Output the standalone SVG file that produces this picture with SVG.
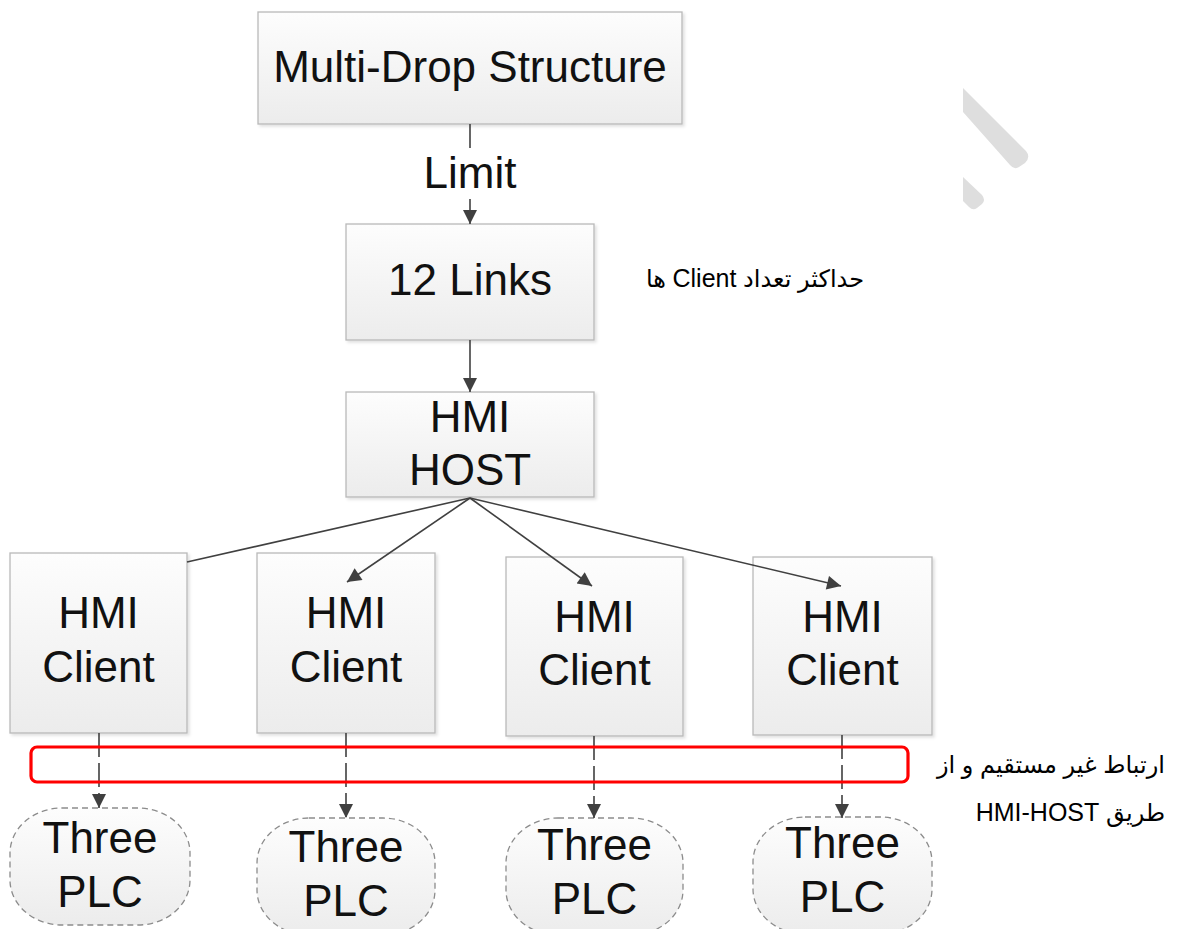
<svg xmlns="http://www.w3.org/2000/svg" width="1184" height="929" viewBox="0 0 1184 929">
<defs>
<linearGradient id="g" x1="0" y1="0" x2="0" y2="1">
<stop offset="0" stop-color="#fdfdfd"/>
<stop offset="1" stop-color="#ececec"/>
</linearGradient>
<marker id="arr" viewBox="0 0 10 10" refX="10" refY="5" markerWidth="16" markerHeight="14" markerUnits="userSpaceOnUse" orient="auto">
<path d="M0,0 L10,5 L0,10 z" fill="#404040"/>
</marker>
<filter id="sh" x="-5%" y="-5%" width="115%" height="115%">
<feDropShadow dx="2" dy="2" stdDeviation="1.5" flood-color="#000" flood-opacity="0.12"/>
</filter>
</defs>
<style>
.box{fill:url(#g);stroke:#b9b9b9;stroke-width:1.3;filter:url(#sh)}
.plc{fill:url(#g);stroke:#8c8c8c;stroke-width:1.3;stroke-dasharray:6 4}
.t{font-family:"Liberation Sans",Arial,sans-serif;font-size:44px;fill:#111;text-anchor:middle}
.fa{font-family:"Liberation Sans","DejaVu Sans",sans-serif;font-size:24px;fill:#000}
.la{font-size:25px}
.c{stroke:#404040;stroke-width:1.6;fill:none}
.d{stroke:#404040;stroke-width:1.6;fill:none;stroke-dasharray:24 6}
</style>
<g id="watermark" fill="#dedede">
<path d="M963,88 L1026,151 Q1031,157 1025,163 L1019,167 Q1014,170 1010,165 L963,112 Z"/>
<path d="M963,177 L982,195 Q986,200 982,204 L977,208 Q973,211 969,207 L963,201 Z"/>
</g>
<g id="multidrop">
<rect class="box" x="258" y="12" width="424" height="112"/>
<text class="t" x="470" y="82">Multi-Drop Structure</text>
</g>
<g id="links12">
<rect class="box" x="346" y="224" width="248" height="116"/>
<text class="t" x="470" y="295">12 Links</text>
</g>
<g id="host">
<rect class="box" x="346" y="392" width="248" height="105"/>
<text class="t" x="470" y="432">HMI</text>
<text class="t" x="470" y="485">HOST</text>
</g>
<g id="client1">
<rect class="box" x="10" y="553" width="177" height="180"/>
<text class="t" x="98.5" y="628">HMI</text>
<text class="t" x="98.5" y="682">Client</text>
</g>
<g id="client2">
<rect class="box" x="257" y="553" width="178" height="180"/>
<text class="t" x="346" y="628">HMI</text>
<text class="t" x="346" y="682">Client</text>
</g>
<g id="client3">
<rect class="box" x="506" y="557" width="177" height="179"/>
<text class="t" x="594.5" y="632">HMI</text>
<text class="t" x="594.5" y="685">Client</text>
</g>
<g id="client4">
<rect class="box" x="753" y="557" width="179" height="178"/>
<text class="t" x="842.5" y="632">HMI</text>
<text class="t" x="842.5" y="685">Client</text>
</g>
<g id="plc1">
<rect class="plc" x="10" y="808" width="180" height="117" rx="52" ry="45"/>
<text class="t" x="100" y="853">Three</text>
<text class="t" x="100" y="907">PLC</text>
</g>
<g id="plc2">
<rect class="plc" x="257" y="818" width="178" height="117" rx="52" ry="45"/>
<text class="t" x="346" y="862">Three</text>
<text class="t" x="346" y="916">PLC</text>
</g>
<g id="plc3">
<rect class="plc" x="506" y="818" width="177" height="117" rx="52" ry="45"/>
<text class="t" x="594.5" y="860">Three</text>
<text class="t" x="594.5" y="914">PLC</text>
</g>
<g id="plc4">
<rect class="plc" x="753" y="817" width="179" height="117" rx="52" ry="45"/>
<text class="t" x="842.5" y="858">Three</text>
<text class="t" x="842.5" y="912">PLC</text>
</g>
<g id="connectors">
<line class="c" x1="470" y1="124" x2="470" y2="148"/>
<line class="c" x1="470" y1="199" x2="470" y2="224" marker-end="url(#arr)"/>
<line class="c" x1="470" y1="340" x2="470" y2="392" marker-end="url(#arr)"/>
<line class="c" x1="470" y1="498" x2="187" y2="562"/>
<line class="c" x1="470" y1="498" x2="347" y2="582" marker-end="url(#arr)"/>
<line class="c" x1="470" y1="498" x2="592" y2="586" marker-end="url(#arr)"/>
<line class="c" x1="470" y1="498" x2="841" y2="586" marker-end="url(#arr)"/>
<line class="d" x1="99" y1="733" x2="99" y2="808" marker-end="url(#arr)"/>
<line class="d" x1="346" y1="733" x2="346" y2="818" marker-end="url(#arr)"/>
<line class="d" x1="594" y1="736" x2="594" y2="818" marker-end="url(#arr)"/>
<line class="d" x1="842" y1="735" x2="842" y2="818" marker-end="url(#arr)"/>
<text class="t" x="470" y="188">Limit</text>
</g>
<g id="highlight">
<rect x="31" y="747" width="877" height="35" rx="6" fill="none" stroke="#ff0000" stroke-width="3.2"/>
</g>
<g id="notes">
<text class="fa" x="864" y="287" direction="rtl" text-anchor="start">حداکثر تعداد <tspan class="la">Client</tspan> ها</text>
<text class="fa" x="1165" y="773" direction="rtl" text-anchor="start">ارتباط غیر مستقیم و از</text>
<text class="fa" x="1165" y="821" direction="rtl" text-anchor="start">طریق <tspan class="la">HMI-HOST</tspan></text>
</g>
</svg>
